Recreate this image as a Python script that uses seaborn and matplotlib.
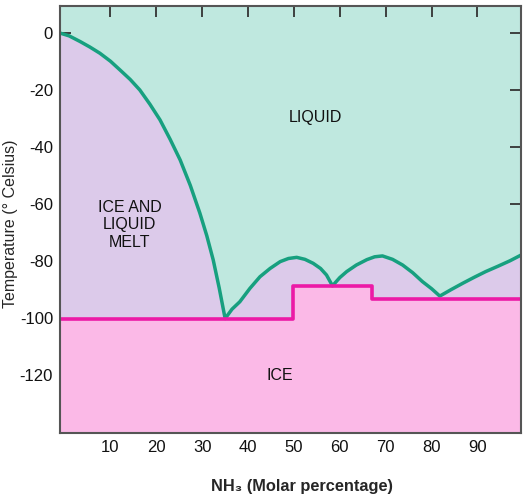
import matplotlib
matplotlib.use("Agg")
import matplotlib.pyplot as plt
import seaborn as sns
import pandas as pd

# liquidus curve (NH3 molar %, temperature in C)
liq_x = [-1.0, 1.0, 3.4, 5.5, 7.7, 10.0, 12.1, 14.3, 16.4, 18.6, 20.8, 23.0, 25.2,
         27.4, 29.5, 31.0, 32.4, 33.7, 35.0,
         36.5, 38.2, 40.4, 42.6, 44.8, 47.0, 48.8, 50.6, 52.4, 54.2, 55.8, 57.1, 58.4,
         60.0, 61.5, 63.6, 65.9, 67.6, 69.3, 71.5, 73.7, 75.9, 78.0, 80.0, 81.8,
         84.3, 86.8, 89.3, 91.8, 94.5, 97.1, 99.5]
liq_y = [0.0, -1.0, -3.0, -4.9, -7.1, -9.9, -13.0, -16.3, -20.0, -25.0, -30.5, -37.3, -44.6,
         -53.5, -63.3, -71.2, -79.7, -89.5, -100.3,
         -97.0, -94.4, -89.7, -85.6, -82.7, -80.3, -79.2, -78.8, -79.5, -80.9, -82.7, -85.0, -88.8,
         -85.9, -83.8, -81.5, -79.6, -78.6, -78.3, -79.5, -81.5, -84.2, -87.3, -89.8, -92.4,
         -90.1, -87.9, -85.8, -83.8, -81.9, -80.0, -78.0]

# solidus (stepped)
sol_x = [-1.0, 49.7, 67.1, 99.5]
sol_y = [-100.5, -88.8, -93.5, -93.5]

region_labels = ["LIQUID", "ICE AND\nLIQUID\nMELT", "ICE"]
region_x = [54.6, 14.2, 46.9]
region_y = [-29.5, -67.4, -120.4]

x_ticks = [10, 20, 30, 40, 50, 60, 70, 80, 90]
y_ticks = [0, -20, -40, -60, -80, -100, -120]

XMIN, XMAX = -1.0, 99.5
YMIN, YMAX = -140.5, 9.5

sns.set_style("ticks")
plt.rcParams['font.family'] = ['Liberation Sans', 'DejaVu Sans']
plt.rcParams['axes.unicode_minus'] = False

liq = pd.DataFrame({"x": liq_x, "y": liq_y})
sol = pd.DataFrame({"x": sol_x, "y": sol_y})

fig = plt.figure(figsize=(5.28, 4.98), dpi=100)
ax = fig.add_axes([60 / 528, 1 - 433 / 498, 461 / 528, 427 / 498])

ax.set_facecolor("#bfe8df")
ax.fill_between(liq["x"], liq["y"], YMIN, color="#dccaea", lw=0)
ax.fill_between(sol["x"], sol["y"], YMIN, color="#fbb9e7", lw=0, step="post")

sns.lineplot(data=liq, x="x", y="y", ax=ax, color="#17a07f", lw=2.5, sort=False)
sns.lineplot(data=sol, x="x", y="y", ax=ax, color="#ec1aa6", lw=2.6, sort=False,
             drawstyle="steps-post")

for t, x, y in zip(region_labels, region_x, region_y):
    ax.text(x, y, t, ha="center", va="center", fontsize=11.5, color="#111111",
            linespacing=1.2)

ax.set_xlim(XMIN, XMAX)
ax.set_ylim(YMIN, YMAX)
ax.set_xticks(x_ticks)
ax.set_yticks(y_ticks)
ax.tick_params(direction="in", length=8, width=1.3, color="#333333",
               labelsize=12, labelcolor="#111111", top=True, right=True, pad=5)
for s in ax.spines.values():
    s.set_color("#555555")
    s.set_linewidth(1.5)

ax.set_xlabel("NH₃ (Molar percentage)", fontsize=11.8, fontweight="bold")
ax.xaxis.set_label_coords(0.525, -0.108)
ax.set_ylabel("Temperature (° Celsius)", fontsize=11.5)
ax.yaxis.set_label_coords(-0.092, 0.49)

fig.savefig("out.png", dpi=100)
